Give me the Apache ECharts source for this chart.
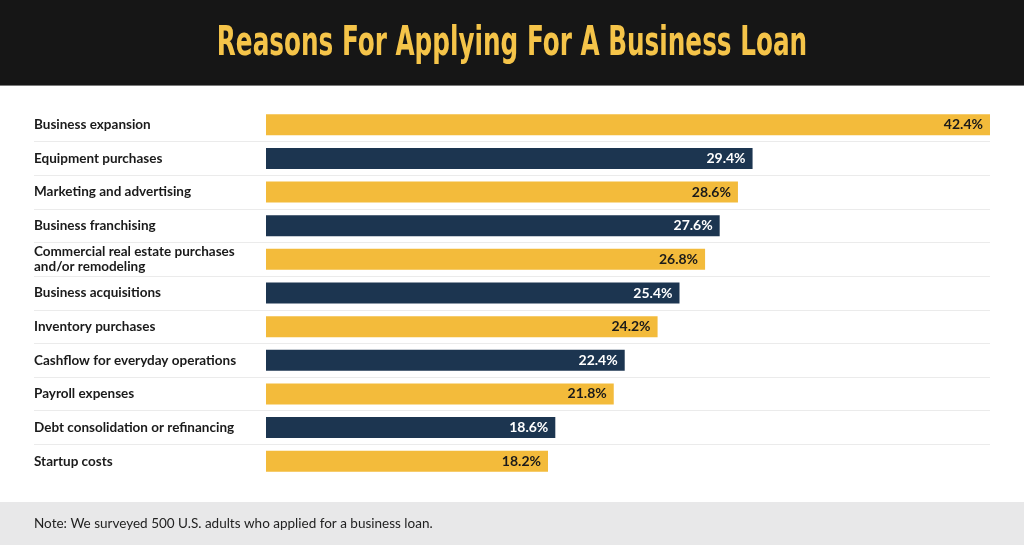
<!DOCTYPE html>
<html>
<head>
<meta charset="utf-8">
<style>
html,body{margin:0;padding:0;background:#fff;}
#c{width:1024px;height:545px;}
</style>
<script src="https://cdn.jsdelivr.net/npm/echarts@6/dist/echarts.min.js"></script>
</head>
<body>
<div id="c"></div>
<script>
const titleText = 'Reasons For Applying For A Business Loan';
const noteText = 'Note: We surveyed 500 U.S. adults who applied for a business loan.';
const categories = [
  'Business expansion',
  'Equipment purchases',
  'Marketing and advertising',
  'Business franchising',
  'Commercial real estate purchases\nand/or remodeling',
  'Business acquisitions',
  'Inventory purchases',
  'Cashflow for everyday operations',
  'Payroll expenses',
  'Debt consolidation or refinancing',
  'Startup costs'
];
const values = [42.4, 29.4, 28.6, 27.6, 26.8, 25.4, 24.2, 22.4, 21.8, 18.6, 18.2];

const YELLOW = '#f3bb3b';
const NAVY = '#1c3550';

const chart = echarts.init(document.getElementById('c'), null, {renderer: 'canvas'});
const gridTop = 108, gridHeight = 370;

chart.setOption({
  backgroundColor: '#ffffff',
  animation: false,
  graphic: [
    {type: 'rect', left: 0, top: 0, z: -10, shape: {width: 1024, height: 85}, style: {fill: '#161616'}},
    {type: 'rect', left: 0, top: 85, z: -10, shape: {width: 1024, height: 1}, style: {fill: '#7a7a7a'}},
    {type: 'rect', left: 0, top: 502, z: -10, shape: {width: 1024, height: 43}, style: {fill: '#e8e8e9'}},
    {
      type: 'text', x: 512, y: 44, scaleX: 0.67, z: 10,
      style: {
        text: titleText, fill: '#f5c449',
        font: 'bold 41px "DejaVu Sans Condensed", sans-serif',
        textAlign: 'center', textVerticalAlign: 'middle'
      }
    },
    {
      type: 'text', x: 34, y: 524, z: 10,
      style: {
        text: noteText, fill: '#222222',
        font: '13.5px Lato, "Noto Sans", sans-serif',
        textAlign: 'left', textVerticalAlign: 'middle'
      }
    }
  ],
  grid: [
    {left: 266, right: 34, top: gridTop, height: gridHeight},
    {left: 34, right: 34, top: gridTop, height: gridHeight}
  ],
  xAxis: [
    {gridIndex: 0, type: 'value', min: 2.76, max: 42.4, show: false},
    {gridIndex: 1, type: 'value', min: 0, max: 1, show: false}
  ],
  yAxis: [
    {gridIndex: 0, type: 'category', data: categories, inverse: true, show: false},
    {
      gridIndex: 1, type: 'category', data: categories, inverse: true,
      axisLine: {show: false}, axisTick: {show: false},
      axisLabel: {
        align: 'left', margin: 0, inside: true,
        color: '#1a1a1a', fontFamily: 'Lato, "Noto Sans", sans-serif',
        fontWeight: 'bold', fontSize: 13.5, lineHeight: 15
      },
      splitLine: {show: true, showMinLine: false, showMaxLine: false, lineStyle: {color: '#ebebeb', width: 1}}
    }
  ],
  series: [{
    type: 'bar',
    xAxisIndex: 0, yAxisIndex: 0,
    barWidth: 21,
    data: values.map((v, i) => ({
      value: v,
      itemStyle: {color: i % 2 === 0 ? YELLOW : NAVY},
      label: {color: i % 2 === 0 ? '#1a1a1a' : '#ffffff'}
    })),
    label: {
      show: true, position: 'insideRight', distance: 7,
      formatter: p => p.value.toFixed(1) + '%',
      fontFamily: 'Lato, "Noto Sans", sans-serif', fontWeight: 'bold', fontSize: 14
    }
  }]
});
</script>
</body>
</html>
